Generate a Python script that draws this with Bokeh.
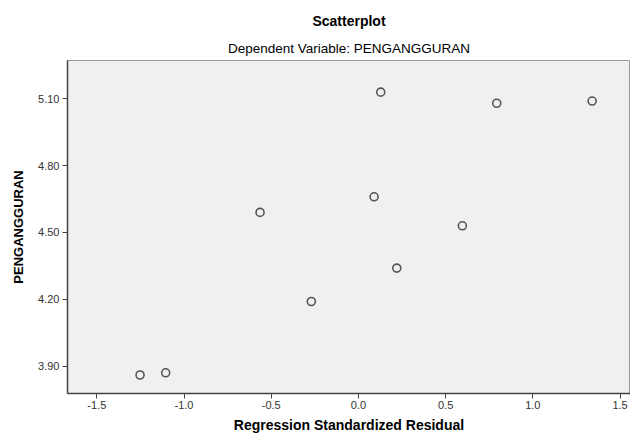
from bokeh.plotting import figure
from bokeh.models import FixedTicker, NumeralTickFormatter, Range1d, Title, ColumnDataSource
from bokeh.embed import file_html
from bokeh.resources import INLINE

# Data
residual = [0.128, 0.793, 1.340, 0.090, -0.564, 0.596, 0.220, -0.270, -1.252, -1.105]
pengangguran = [5.13, 5.08, 5.09, 4.66, 4.59, 4.53, 4.34, 4.19, 3.86, 3.87]

x_ticks = [-1.5, -1.0, -0.5, 0.0, 0.5, 1.0, 1.5]
y_ticks = [3.90, 4.20, 4.50, 4.80, 5.10]

FONT = "Liberation Sans"

p = figure(width=630, height=436, output_backend="svg", toolbar_location=None,
           x_range=Range1d(-1.668, 1.56), y_range=Range1d(3.777, 5.272),
           min_border_left=67, min_border_right=0, min_border_top=60, min_border_bottom=43)

p.title.text = "Scatterplot"
p.title.align = "center"
p.title.text_font = FONT
p.title.text_font_size = "14px"
p.title.text_font_style = "bold"
p.title.text_color = "#000000"
p.add_layout(Title(text="Dependent Variable: PENGANGGURAN", align="center", text_font=FONT,
                   text_font_size="13.5px", text_font_style="normal", text_color="#000000"), "above")

p.background_fill_color = "#f0f0f0"
p.border_fill_color = "#ffffff"
p.outline_line_color = "#9a9a9a"
p.outline_line_width = 1
p.xgrid.visible = False
p.ygrid.visible = False

for ax in (p.xaxis, p.yaxis):
    ax.axis_line_color = "#444444"
    ax.axis_line_width = 1.5
    ax.major_tick_line_color = "#444444"
    ax.major_tick_out = 5
    ax.major_tick_in = 0
    ax.minor_tick_line_color = None
    ax.major_label_text_font = FONT
    ax.major_label_text_font_size = "11px"
    ax.major_label_text_color = "#333333"
    ax.axis_label_text_font = FONT
    ax.axis_label_text_font_style = "bold"
    ax.axis_label_text_color = "#000000"

p.xaxis.ticker = FixedTicker(ticks=x_ticks)
p.xaxis.formatter = NumeralTickFormatter(format="0.0")
p.xaxis.axis_label = "Regression Standardized Residual"
p.xaxis.axis_label_text_font_size = "14px"
p.xaxis.axis_label_standoff = 5
p.xaxis.major_label_standoff = 2

p.yaxis.ticker = FixedTicker(ticks=y_ticks)
p.yaxis.formatter = NumeralTickFormatter(format="0.00")
p.yaxis.axis_label = "PENGANGGURAN"
p.yaxis.axis_label_text_font_size = "13px"
p.yaxis.axis_label_standoff = 9
p.yaxis.major_label_standoff = 3

src = ColumnDataSource(data=dict(x=residual, y=pengangguran))
p.scatter("x", "y", source=src, marker="circle", size=8, fill_color=None,
          line_color="#555555", line_width=1.6)

open("out.html", "w").write(file_html(p, INLINE))
